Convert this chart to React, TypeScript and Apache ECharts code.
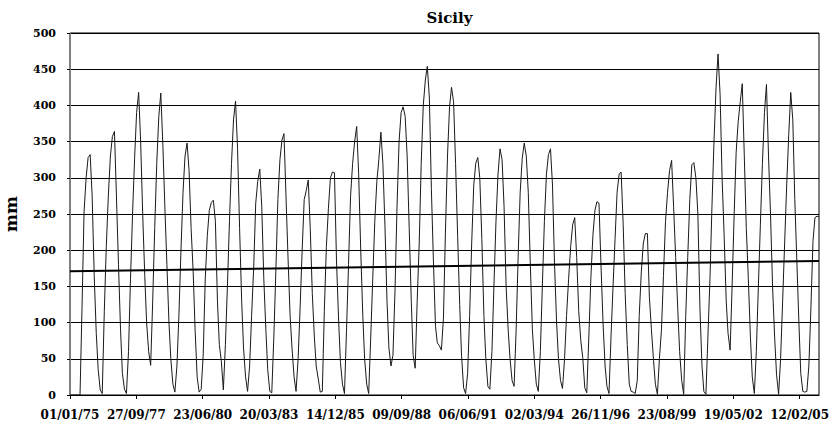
import React, { useEffect, useRef } from "react";
import * as echarts from "echarts";

const START_YEAR = 1975;
const TITLE = "Sicily";
const Y_NAME = "mm";

// Monthly values (mm), Jan..Dec per row, 1975-2005
const monthlyMm: number[] = [
  0, 0, 0, 0, 0, 0, 120, 253, 300, 328, 332, 275, // 1975
  165, 85, 35, 7, 2, 115, 205, 275, 330, 357, 364, 275, // 1976
  180, 90, 30, 8, 2, 60, 160, 250, 327, 390, 418, 350, // 1977
  250, 165, 100, 60, 41, 130, 230, 320, 385, 417, 345, 260, // 1978
  180, 100, 50, 15, 4, 40, 110, 200, 280, 330, 348, 310, // 1979
  230, 170, 90, 25, 4, 8, 55, 160, 220, 255, 266, 269, // 1980
  240, 130, 70, 46, 7, 70, 150, 240, 320, 380, 406, 340, // 1981
  230, 130, 65, 25, 5, 40, 110, 175, 265, 295, 312, 260, // 1982
  160, 90, 35, 5, 3, 80, 170, 270, 325, 352, 361, 275, // 1983
  190, 110, 65, 25, 5, 50, 120, 200, 270, 282, 297, 230, // 1984
  140, 80, 40, 22, 4, 5, 115, 205, 258, 300, 308, 307, // 1985
  185, 105, 45, 15, 2, 90, 180, 275, 320, 350, 371, 305, // 1986
  200, 110, 50, 15, 2, 80, 160, 240, 295, 325, 363, 320, // 1987
  235, 130, 65, 40, 55, 145, 260, 350, 390, 398, 385, 330, // 1988
  230, 130, 55, 37, 130, 210, 320, 400, 435, 454, 410, 285, // 1989
  185, 95, 72, 68, 62, 106, 225, 330, 398, 425, 405, 320, // 1990
  220, 125, 55, 10, 2, 30, 110, 210, 290, 320, 328, 300, // 1991
  215, 110, 50, 12, 8, 60, 150, 240, 305, 340, 325, 260, // 1992
  150, 90, 50, 20, 12, 90, 190, 280, 327, 348, 330, 280, // 1993
  180, 90, 50, 15, 5, 60, 150, 240, 305, 332, 340, 290, // 1994
  180, 100, 50, 20, 9, 50, 110, 160, 205, 235, 245, 190, // 1995
  115, 75, 52, 10, 3, 80, 160, 220, 255, 267, 265, 180, // 1996
  100, 40, 12, 2, 80, 150, 215, 280, 305, 308, 235, 140, // 1997
  70, 15, 5, 4, 2, 20, 110, 170, 210, 223, 223, 135, // 1998
  90, 48, 15, 1, 50, 90, 165, 240, 280, 310, 324, 260, // 1999
  190, 120, 60, 20, 1, 110, 190, 270, 318, 321, 300, 250, // 2000
  120, 40, 5, 1, 80, 160, 260, 350, 425, 471, 415, 300, // 2001
  220, 130, 85, 62, 150, 250, 335, 378, 405, 430, 330, 230, // 2002
  160, 80, 25, 2, 60, 150, 235, 320, 390, 429, 330, 250, // 2003
  150, 80, 28, 1, 50, 130, 210, 290, 360, 418, 380, 270, // 2004
  185, 100, 30, 5, 4, 5, 40, 120, 212, 245, 247, 246, // 2005
];

// Linear trend: value at first and last date
const trendEnds: number[] = [171, 185];

const Y_MIN = 0;
const Y_MAX = 500;
const Y_STEP = 50;
const X_STEP_DAYS = 1000;

const DAY_MS = 86400000;
const EPOCH = Date.UTC(START_YEAR, 0, 1);
const dayIndex = (y: number, m: number) => Math.round((Date.UTC(y, m, 1) - EPOCH) / DAY_MS);
const pad = (n: number) => (n < 10 ? "0" + n : String(n));
const fmtDate = (v: number) => {
  if (Math.round(v) % X_STEP_DAYS !== 0) return "";
  const d = new Date(EPOCH + v * DAY_MS);
  return `${pad(d.getUTCDate())}/${pad(d.getUTCMonth() + 1)}/${pad(d.getUTCFullYear() % 100)}`;
};

const FONT = "DejaVu Serif";

export default function App() {
  const ref = useRef<HTMLDivElement>(null);
  useEffect(() => {
    document.body.style.margin = "0";
    const chart = echarts.init(ref.current!, undefined, { renderer: "svg" });
    const points = monthlyMm.map((v, i) => [dayIndex(START_YEAR + Math.floor(i / 12), i % 12), v]);
    const lastDay = points[points.length - 1][0] as number;
    chart.setOption({
      animation: false,
      title: {
        text: TITLE,
        left: 444.5,
        top: 5,
        textAlign: "center",
        textStyle: { fontFamily: FONT, fontWeight: "bold", fontSize: 15, color: "#000" },
      },
      grid: {
        left: 70,
        right: 10,
        top: 33,
        bottom: 29,
        containLabel: false,
        outerBoundsMode: "none",
        show: true,
        borderColor: "#000",
        borderWidth: 1,
      },
      xAxis: {
        type: "value",
        min: 0,
        max: lastDay,
        interval: X_STEP_DAYS,
        axisLine: { show: true, lineStyle: { color: "#000", width: 1 } },
        axisTick: { show: true, length: 4, lineStyle: { color: "#000" } },
        splitLine: { show: false },
        axisLabel: {
          formatter: fmtDate,
          fontFamily: FONT,
          fontWeight: "bold",
          fontSize: 12,
          color: "#000",
          margin: 14,
          showMaxLabel: false,
        },
      },
      yAxis: {
        type: "value",
        min: Y_MIN,
        max: Y_MAX,
        interval: Y_STEP,
        name: Y_NAME,
        nameLocation: "middle",
        nameGap: 51,
        nameRotate: 90,
        nameTextStyle: { fontFamily: FONT, fontWeight: "bold", fontSize: 17, color: "#000" },
        axisLine: { show: true, lineStyle: { color: "#808080", width: 1 } },
        axisTick: { show: true, length: 3, lineStyle: { color: "#000" } },
        splitLine: { show: true, lineStyle: { color: "#000", width: 1 } },
        axisLabel: { fontFamily: FONT, fontWeight: "bold", fontSize: 11, color: "#000", margin: 14 },
      },
      series: [
        {
          type: "line",
          data: points,
          symbol: "none",
          lineStyle: { color: "#1a1a1a", width: 1 },
          z: 3,
        },
        {
          type: "line",
          data: [
            [0, trendEnds[0]],
            [lastDay, trendEnds[1]],
          ],
          symbol: "none",
          lineStyle: { color: "#000", width: 2 },
          z: 4,
        },
      ],
    });
    return () => chart.dispose();
  }, []);
  return <div ref={ref} style={{ width: 829, height: 424 }} />;
}
